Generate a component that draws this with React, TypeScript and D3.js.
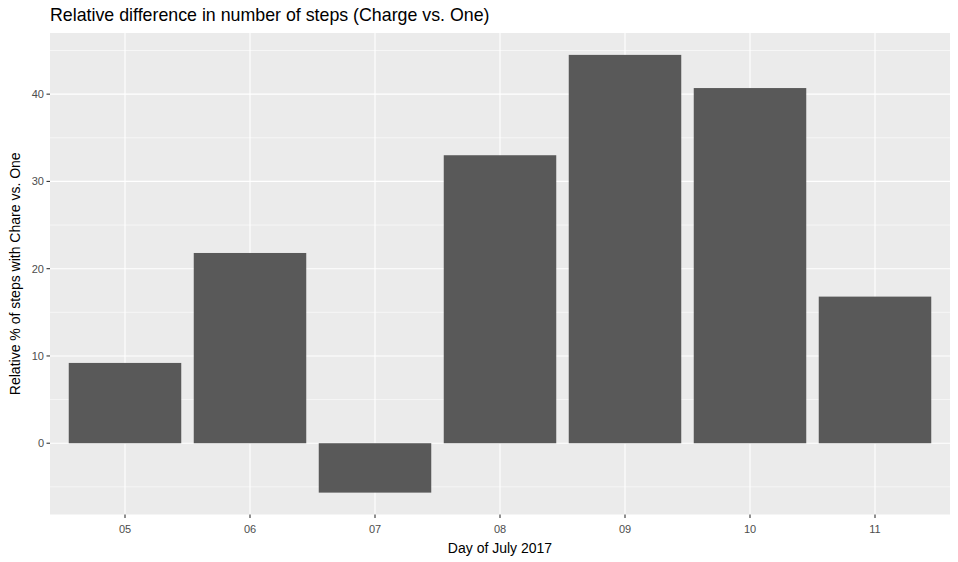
import React from "react";
import * as d3 from "d3";

// Relative difference in steps per day (Charge vs. One), July 2017
const days = ["05", "06", "07", "08", "09", "10", "11"];
const relDiff = [9.2, 21.8, -5.66, 33.0, 44.5, 40.7, 16.8];
const yTicks = [0, 10, 20, 30, 40];
const yMinor = [-5, 5, 15, 25, 35, 45];

const width = 958;
const height = 562;
const margin = { top: 33, right: 8, bottom: 47.5, left: 50 };

export default function App() {
  const pw = width - margin.left - margin.right;
  const ph = height - margin.top - margin.bottom;

  // ggplot-style discrete scale with 0.6 padding on each side
  const x = d3
    .scalePoint<string>()
    .domain(days)
    .range([0, pw])
    .padding(0.6);
  const step = x.step();
  const barW = step * 0.9;

  const lo = Math.min(0, d3.min(relDiff) as number);
  const hi = Math.max(0, d3.max(relDiff) as number);
  const pad = (hi - lo) * 0.05;
  const y = d3.scaleLinear().domain([lo - pad, hi + pad]).range([ph, 0]);

  const font = "'Liberation Sans', Arial, sans-serif";

  return (
    <svg
      width={width}
      height={height}
      style={{ position: "absolute", left: 0, top: 0, background: "#fff" }}
      fontFamily={font}
    >
      <text x={margin.left} y={21} fontSize={17.8} fill="#000">
        Relative difference in number of steps (Charge vs. One)
      </text>
      <g transform={`translate(${margin.left},${margin.top})`}>
        <rect width={pw} height={ph} fill="#EBEBEB" />
        {yMinor.map((t) => (
          <line key={"m" + t} x1={0} x2={pw} y1={y(t)} y2={y(t)} stroke="#fff" strokeWidth={0.55} />
        ))}
        {yTicks.map((t) => (
          <line key={"g" + t} x1={0} x2={pw} y1={y(t)} y2={y(t)} stroke="#fff" strokeWidth={1.1} />
        ))}
        {days.map((d) => (
          <line key={"v" + d} x1={x(d)} x2={x(d)} y1={0} y2={ph} stroke="#fff" strokeWidth={1.1} />
        ))}
        {days.map((d, i) => (
          <rect
            key={"b" + d}
            x={(x(d) as number) - barW / 2}
            width={barW}
            y={y(Math.max(0, relDiff[i]))}
            height={Math.abs(y(relDiff[i]) - y(0))}
            fill="#595959"
          />
        ))}
        {yTicks.map((t) => (
          <g key={"yt" + t} transform={`translate(0,${y(t)})`}>
            <line x1={-3.5} x2={0} stroke="#333" strokeWidth={1.1} />
            <text x={-6} dy="0.35em" textAnchor="end" fontSize={11} fill="#4D4D4D">
              {t}
            </text>
          </g>
        ))}
        {days.map((d) => (
          <g key={"xt" + d} transform={`translate(${x(d)},${ph})`}>
            <line y1={0} y2={3.5} stroke="#333" strokeWidth={1.1} />
            <text y={18.5} textAnchor="middle" fontSize={11} fill="#4D4D4D">
              {d}
            </text>
          </g>
        ))}
        <text x={pw / 2} y={ph + 38} textAnchor="middle" fontSize={14} fill="#000">
          Day of July 2017
        </text>
        <text
          transform={`translate(${-30},${ph / 2}) rotate(-90)`}
          textAnchor="middle"
          fontSize={14}
          fill="#000"
        >
          Relative % of steps with Chare vs. One
        </text>
      </g>
    </svg>
  );
}
